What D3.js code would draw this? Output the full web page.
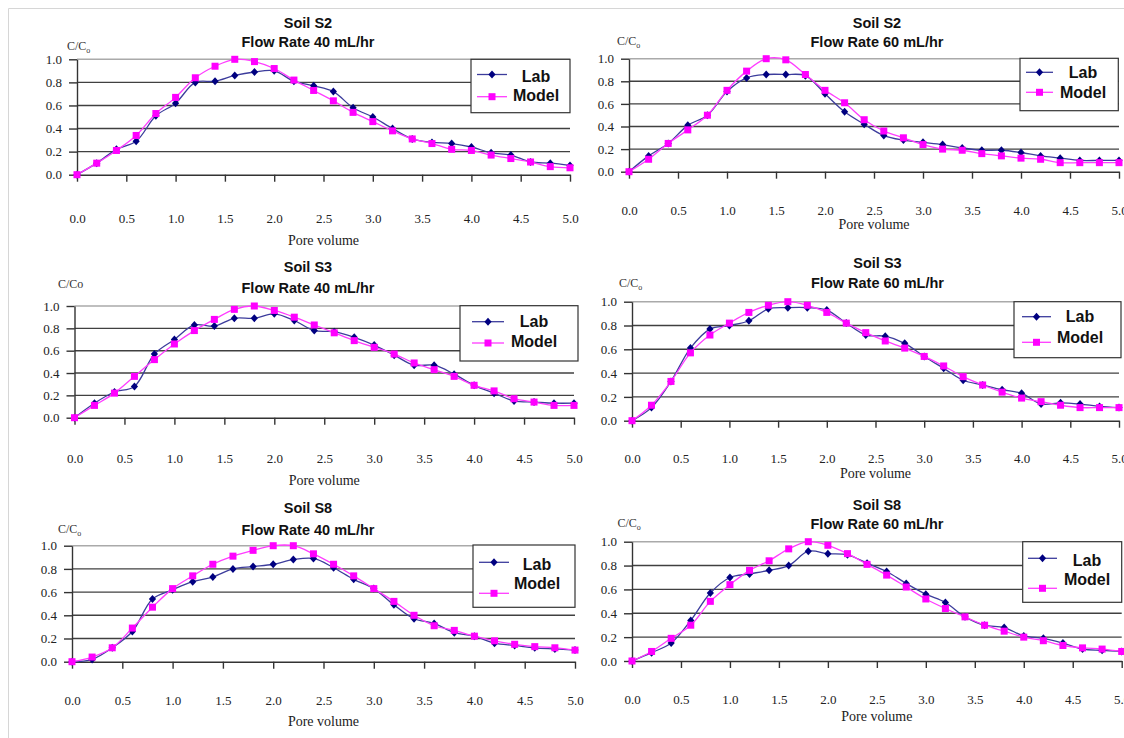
<!DOCTYPE html>
<meta charset="utf-8">
<style>
body{margin:0;background:#fff;}
.grid line{stroke:#404040;stroke-width:1.4;}
.grid line.top{stroke:#aaa;}
.axis path,.axis line{stroke:#333;stroke-width:1.4;}
.axis text{font-family:"Liberation Serif","Times New Roman",serif;font-size:13px;fill:#222;}
.title{font-family:"Liberation Sans",Arial,sans-serif;font-weight:bold;font-size:14.5px;fill:#111;text-anchor:middle;}
.xlab{font-family:"Liberation Serif",serif;font-size:14px;fill:#222;text-anchor:middle;}
.ylab{font-family:"Liberation Serif",serif;font-size:12px;fill:#333;}
.leg rect.box{fill:#fff;stroke:#333;stroke-width:1.2;}
.leg text{font-family:"Liberation Sans",Arial,sans-serif;font-weight:bold;font-size:16px;fill:#111;text-anchor:middle;}
</style>
<body>
<script src="https://cdn.jsdelivr.net/npm/d3@7"></script>
<script>

var pore = [0,0.2,0.4,0.6,0.8,1.0,1.2,1.4,1.6,1.8,2.0,2.2,2.4,2.6,2.8,3.0,3.2,3.4,3.6,3.8,4.0,4.2,4.4,4.6,4.8,5.0];
var xTicks = [0,0.5,1.0,1.5,2.0,2.5,3.0,3.5,4.0,4.5,5.0];
var yTicks = [0,0.2,0.4,0.6,0.8,1.0];
var soils = ["Soil S2","Soil S2","Soil S3","Soil S3","Soil S8","Soil S8"];
var flows = ["Flow Rate 40 mL/hr","Flow Rate 60 mL/hr","Flow Rate 40 mL/hr","Flow Rate 60 mL/hr","Flow Rate 40 mL/hr","Flow Rate 60 mL/hr"];
var seriesNames = ["Lab","Model"];

var labS2_40 = [0,0.10,0.22,0.29,0.51,0.62,0.80,0.81,0.86,0.89,0.90,0.81,0.77,0.72,0.58,0.50,0.40,0.31,0.28,0.27,0.24,0.19,0.17,0.11,0.10,0.08];
var modS2_40 = [0,0.10,0.21,0.34,0.53,0.67,0.84,0.94,1.00,0.98,0.92,0.82,0.73,0.64,0.54,0.46,0.38,0.31,0.27,0.22,0.21,0.17,0.14,0.11,0.07,0.06];
var labS2_60 = [0,0.14,0.25,0.41,0.50,0.71,0.83,0.86,0.86,0.85,0.69,0.53,0.42,0.32,0.28,0.26,0.24,0.21,0.19,0.19,0.17,0.14,0.12,0.10,0.10,0.10];
var modS2_60 = [0,0.11,0.25,0.37,0.50,0.72,0.89,1.00,0.99,0.86,0.72,0.61,0.46,0.36,0.30,0.24,0.20,0.19,0.16,0.14,0.12,0.11,0.08,0.08,0.08,0.08];
var labS3_40 = [0,0.13,0.23,0.28,0.57,0.70,0.83,0.82,0.89,0.89,0.93,0.87,0.78,0.77,0.72,0.65,0.56,0.47,0.47,0.39,0.29,0.22,0.15,0.14,0.13,0.13];
var modS3_40 = [0,0.11,0.22,0.37,0.52,0.66,0.78,0.88,0.97,1.00,0.96,0.90,0.83,0.76,0.69,0.63,0.57,0.49,0.43,0.37,0.29,0.24,0.17,0.14,0.11,0.11];
var labS3_60 = [0,0.11,0.33,0.61,0.77,0.80,0.84,0.94,0.95,0.95,0.93,0.82,0.72,0.71,0.65,0.54,0.44,0.34,0.30,0.26,0.23,0.14,0.15,0.14,0.12,0.11];
var modS3_60 = [0,0.13,0.33,0.57,0.72,0.82,0.91,0.97,1.00,0.97,0.91,0.82,0.74,0.67,0.61,0.54,0.46,0.37,0.30,0.24,0.19,0.16,0.13,0.11,0.11,0.11];
var labS8_40 = [0,0.02,0.12,0.26,0.54,0.62,0.69,0.73,0.80,0.82,0.84,0.88,0.89,0.81,0.71,0.63,0.49,0.37,0.33,0.25,0.22,0.16,0.14,0.12,0.11,0.10];
var modS8_40 = [0,0.04,0.12,0.29,0.47,0.63,0.74,0.84,0.91,0.96,1.00,1.00,0.93,0.84,0.74,0.63,0.52,0.40,0.31,0.27,0.22,0.18,0.15,0.13,0.12,0.10];
var labS8_60 = [0,0.07,0.15,0.34,0.57,0.70,0.73,0.76,0.80,0.92,0.90,0.89,0.82,0.75,0.65,0.56,0.49,0.37,0.30,0.28,0.21,0.19,0.15,0.10,0.09,0.08];
var modS8_60 = [0,0.08,0.19,0.30,0.50,0.64,0.76,0.84,0.94,1.00,0.97,0.90,0.81,0.72,0.62,0.52,0.44,0.37,0.30,0.25,0.20,0.17,0.13,0.11,0.10,0.08];

var labData = [labS2_40,labS2_60,labS3_40,labS3_60,labS8_40,labS8_60];
var modData = [modS2_40,modS2_60,modS3_40,modS3_60,modS8_40,modS8_60];

// layout of each panel (pixels)
var panels = [
 {x0:77,x1:570,y0:174.7,y1:59.3,tx:308,t1:22.7,t2:42.3,cx:67,cb:50,sub:true,lab:218.3,pv:240,
  lg:{x:471,y:59.3,w:99,h:53.4,l0:477,l1:507,ly:74.5,my:96.7,tx:536,lty:76,mty:95.7}},
 {x0:629,x1:1119,y0:171.7,y1:58.7,tx:877,t1:22.7,t2:42.3,cx:617,cb:45,sub:true,lab:210.3,pv:224,
  lg:{x:1020,y:58.3,w:98.3,h:52.4,l0:1026,l1:1053,ly:72.3,my:92.3,tx:1083,lty:72.3,mty:92.3}},
 {x0:74.5,x1:574,y0:417.7,y1:306,tx:308,t1:267,t2:288,cx:58,cb:288.3,sub:false,lab:458.3,pv:480,
  lg:{x:460,y:305.7,w:118,h:55.3,l0:472,l1:504,ly:321.7,my:343,tx:534,lty:321.7,mty:341.7}},
 {x0:632,x1:1119,y0:420.7,y1:301.7,tx:877.5,t1:263.3,t2:282.7,cx:619,cb:287,sub:true,lab:458.3,pv:473.5,
  lg:{x:1014,y:301.7,w:107,h:56,l0:1022,l1:1051,ly:316.7,my:342.3,tx:1080,lty:316.7,mty:337.3}},
 {x0:72,x1:575,y0:661.7,y1:545.7,tx:308,t1:508,t2:529.5,cx:58,cb:532.7,sub:true,lab:700.7,pv:721.7,
  lg:{x:473,y:545,w:102,h:62.3,l0:479,l1:509,ly:562.3,my:593.3,tx:537,lty:564,mty:583.3}},
 {x0:632,x1:1121.7,y0:661,y1:541.7,tx:877,t1:505,t2:524.3,cx:617.5,cb:527,sub:true,lab:700,pv:716.7,
  lg:{x:1022.7,y:541.7,w:99,h:60.6,l0:1028,l1:1057,ly:558.3,my:588.3,tx:1087,lty:560.7,mty:579.3}}
];

var labLine = "#3c3c9c", labMark = "#000080";
var modLine = "#ff3cff", modMark = "#ff00ff";

var svg = d3.select("body").append("svg").attr("width",1124).attr("height",738);
svg.append("rect").attr("width",1124).attr("height",738).attr("fill","#fff");

// outer frame of the figure
svg.append("line").attr("x1",8.5).attr("x2",1124).attr("y1",8.5).attr("y2",8.5).attr("stroke","#d6d6d6");
svg.append("line").attr("x1",8.5).attr("x2",8.5).attr("y1",8.5).attr("y2",738).attr("stroke","#d6d6d6");

var diamond = "M0,-4L3.6,0L0,4L-3.6,0Z";

panels.forEach(function(p,i){
	var x = d3.scaleLinear().domain([0,5]).range([p.x0,p.x1]);
	var y = d3.scaleLinear().domain([0,1]).range([p.y0,p.y1]);
	var g = svg.append("g");

	g.append("g").attr("class","grid").selectAll("line")
		.data(yTicks.filter(d=>d>0)).join("line")
		.attr("class",d=>d==1?"top":null)
		.attr("x1",p.x0).attr("x2",p.x1)
		.attr("y1",d=>y(d)).attr("y2",d=>y(d));

	var pad = p.lab - p.y0 - 4.9 - 7;
	g.append("g").attr("class","axis")
		.attr("transform","translate(0,"+p.y0+")")
		.call(d3.axisBottom(x).tickValues(xTicks).tickSize(7).tickSizeOuter(0).tickPadding(pad).tickFormat(d3.format(".1f")));

	g.append("g").attr("class","axis")
		.attr("transform","translate("+p.x0+",0)")
		.call(d3.axisLeft(y).tickValues(yTicks).tickSize(8).tickSizeOuter(0).tickPadding(7).tickFormat(d3.format(".1f")));

	g.append("text").attr("class","title").attr("x",p.tx).attr("y",p.t1+5).text(soils[i]);
	g.append("text").attr("class","title").attr("x",p.tx).attr("y",p.t2+5).text(flows[i]);

	var yl = g.append("text").attr("class","ylab").attr("x",p.cx).attr("y",p.cb);
	if(p.sub){
		yl.append("tspan").text("C/C");
		yl.append("tspan").attr("font-size","8px").attr("dy",3).text("o");
	} else {
		yl.text("C/Co");
	}

	g.append("text").attr("class","xlab").attr("x",(p.x0+p.x1)/2).attr("y",p.pv+4.5).text("Pore volume");

	var line = d3.line().x((d,k)=>x(pore[k])).y(d=>y(d)).curve(d3.curveCatmullRom.alpha(0.5));

	g.append("path").attr("d",line(labData[i])).attr("fill","none").attr("stroke",labLine).attr("stroke-width",1.3);
	g.selectAll(".lab").data(labData[i]).join("path").attr("class","lab")
		.attr("d",diamond).attr("fill",labMark)
		.attr("transform",(d,k)=>"translate("+x(pore[k])+","+y(d)+")");

	g.append("path").attr("d",line(modData[i])).attr("fill","none").attr("stroke",modLine).attr("stroke-width",1.3);
	g.selectAll(".mod").data(modData[i]).join("rect").attr("class","mod")
		.attr("x",(d,k)=>x(pore[k])-3.5).attr("y",d=>y(d)-3.5)
		.attr("width",7).attr("height",7).attr("fill",modMark);

	// legend
	var l = p.lg, lg = g.append("g").attr("class","leg");
	lg.append("rect").attr("class","box").attr("x",l.x).attr("y",l.y).attr("width",l.w).attr("height",l.h);
	lg.append("line").attr("x1",l.l0).attr("x2",l.l1).attr("y1",l.ly).attr("y2",l.ly).attr("stroke",labLine).attr("stroke-width",1.3);
	lg.append("path").attr("d",diamond).attr("fill",labMark).attr("transform","translate("+((l.l0+l.l1)/2)+","+l.ly+")");
	lg.append("line").attr("x1",l.l0).attr("x2",l.l1).attr("y1",l.my).attr("y2",l.my).attr("stroke",modLine).attr("stroke-width",1.3);
	lg.append("rect").attr("x",(l.l0+l.l1)/2-3.5).attr("y",l.my-3.5).attr("width",7).attr("height",7).attr("fill",modMark);
	lg.append("text").attr("x",l.tx).attr("y",l.lty).attr("dy","0.35em").text(seriesNames[0]);
	lg.append("text").attr("x",l.tx).attr("y",l.mty).attr("dy","0.35em").text(seriesNames[1]);
});
</script>
</body>
